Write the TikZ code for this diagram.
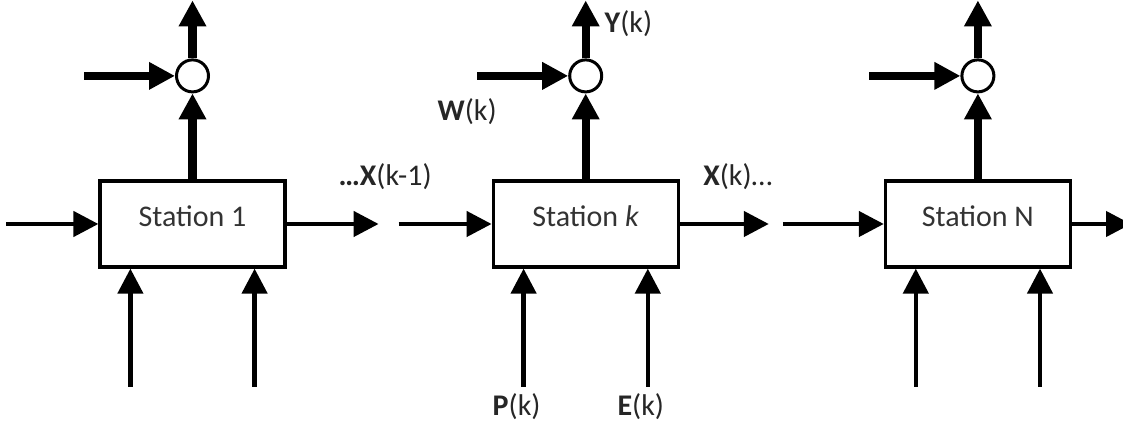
\documentclass[tikz,border=0pt]{standalone}
\usepackage{fontspec}
\setmainfont{Carlito}
\usetikzlibrary{positioning,arrows.meta,calc}

\begin{document}
\begin{tikzpicture}[
    x=0.5pt, y=0.5pt,
    station/.style={draw, line width=1.6pt, minimum width=92.5pt, inner sep=0pt, text height=23pt, text depth=20pt, font=\fontsize{15}{18}\selectfont, text=black!80},
    sum/.style={draw, circle, line width=1.5pt, minimum size=16pt, inner sep=0pt},
    lbl/.style={font=\fontsize{15}{18}\selectfont, text=black!85},
    flow/.style={-{Triangle[length=12.5pt, width=12.5pt]}, line width=2.2pt},
    heavy/.style={-{Triangle[length=13pt, width=13pt]}, line width=4.2pt}
]
\useasboundingbox (0,0) rectangle (1123,421);

\node[station] (s1) at (192.5,197) {Station 1};
\node[station, right=102.5pt of s1] (sk) {Station \textit{k}};
\node[station, right=102pt of sk] (sN) {Station N};

\node[sum, above=43pt of s1] (sum1) {};
\node[sum, above=43pt of sk] (sumk) {};
\node[sum, above=43pt of sN] (sumN) {};

\coordinate[above=29pt of sum1] (y1);
\coordinate[above=29pt of sumk] (yk);
\coordinate[above=29pt of sumN] (yN);
\coordinate[left=45.5pt of sum1] (w1);
\coordinate[left=45.5pt of sumk] (wk);
\coordinate[left=45.5pt of sumN] (wN);

\coordinate[left=46pt of s1] (in1);
\coordinate[right=46pt of s1] (out1);
\coordinate[left=46.5pt of sk] (ink);
\coordinate[right=44.5pt of sk] (outk);
\coordinate[left=50.5pt of sN] (inN);
\coordinate[right=29.5pt of sN] (outN);

\coordinate[below=59pt of s1.south west, xshift=16pt] (p1);
\coordinate[below=59pt of s1.south east, xshift=-16pt] (e1);
\coordinate[below=59pt of sk.south west, xshift=16pt] (pk);
\coordinate[below=59pt of sk.south east, xshift=-16pt] (ek);
\coordinate[below=59pt of sN.south west, xshift=16pt] (pN);
\coordinate[below=59pt of sN.south east, xshift=-16pt] (eN);

\draw[flow] (in1) -- (s1);
\draw[flow] (s1) -- (out1);
\draw[flow] (ink) -- (sk);
\draw[flow] (sk) -- (outk);
\draw[flow] (inN) -- (sN);
\draw[flow] (sN) -- (outN);

\draw[flow] (p1) -- (p1 |- s1.south);
\draw[flow] (e1) -- (e1 |- s1.south);
\draw[flow] (pk) -- (pk |- sk.south);
\draw[flow] (ek) -- (ek |- sk.south);
\draw[flow] (pN) -- (pN |- sN.south);
\draw[flow] (eN) -- (eN |- sN.south);

\draw[heavy] (s1) -- (sum1);
\draw[heavy] (sk) -- (sumk);
\draw[heavy] (sN) -- (sumN);
\draw[heavy] (w1) -- (sum1);
\draw[heavy] (wk) -- (sumk);
\draw[heavy] (wN) -- (sumN);
\draw[heavy] (sum1) -- (y1);
\draw[heavy] (sumk) -- node[lbl, pos=0.6, right=4pt] (ylbl) {\textbf{Y}(k)} (yk);
\draw[heavy] (sumN) -- (yN);

\node[lbl] (wlbl) at ($(wk)+(-10,-36)$) {\textbf{W}(k)};
\node[lbl] (xprev) at ($(out1)+(6.5,47)$) {\textbf{…X}(k-1)};
\node[lbl] (xnext) at ($(outk)+(-31,47)$) {\textbf{X}(k)…};
\node[lbl, below=0pt of pk, xshift=-3.5pt] (plbl) {\textbf{P}(k)};
\node[lbl, below=0pt of ek, xshift=-3.5pt] (elbl) {\textbf{E}(k)};
\end{tikzpicture}
\end{document}
